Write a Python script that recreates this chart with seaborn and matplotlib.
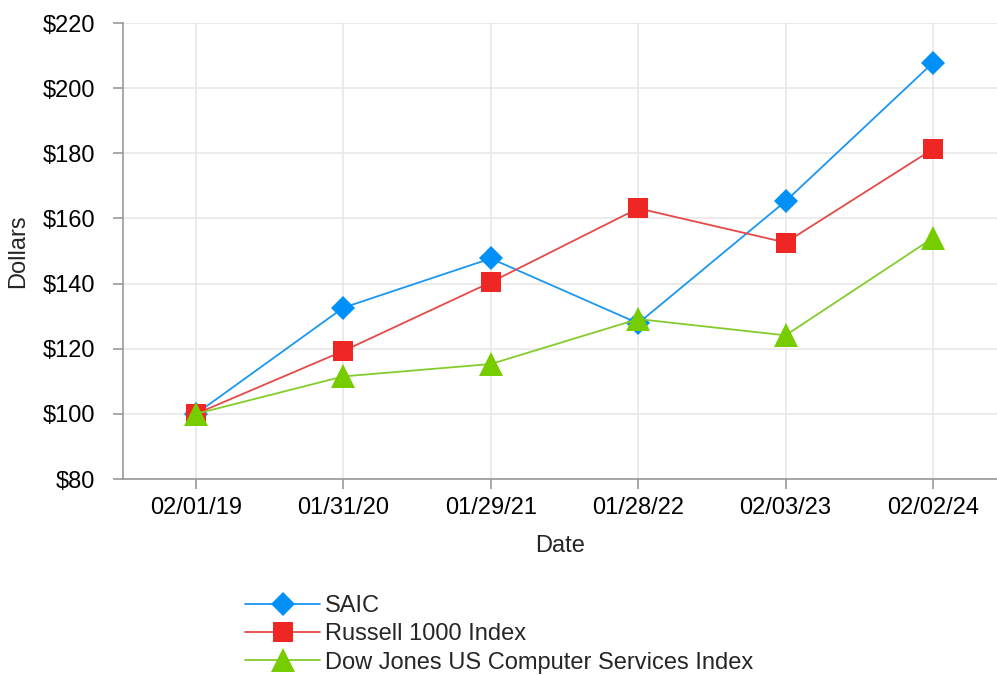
"""Rendimiento acumulado: SAIC frente a índices de referencia."""

import matplotlib.pyplot as plt
import seaborn as sns

fechas = ["02/01/19", "01/31/20", "01/29/21", "01/28/22", "02/03/23", "02/02/24"]
saic = [100, 132.6, 147.7, 127.8, 165.3, 207.8]
russell_1000 = [100, 119.3, 140.4, 163.1, 152.6, 181.3]
dow_jones_cs = [100, 111.5, 115.3, 129.1, 124.1, 154.0]

series = [
    ("SAIC", saic, "#1a97f0", "#0090f8", "D", 12),
    ("Russell 1000 Index", russell_1000, "#e44a47", "#ee2624", "s", 15),
    ("Dow Jones US Computer Services Index", dow_jones_cs, "#84cc2c", "#77cc00", "^", 17),
]

TAM_LETRA = 17


def main() -> None:
    sns.set_theme(style="whitegrid")
    plt.rcParams["font.family"] = ["Liberation Sans", "DejaVu Sans"]

    fig = plt.figure(figsize=(9.97, 6.75), dpi=100)
    ax = fig.add_axes([123 / 997, 1 - 479 / 675, 874 / 997, 456 / 675])

    for nombre, valores, color_linea, color_marca, marca, tam in series:
        sns.lineplot(
            x=fechas,
            y=valores,
            ax=ax,
            label=nombre,
            color=color_linea,
            linewidth=1.3,
            marker=marca,
            markersize=tam,
            markerfacecolor=color_marca,
            markeredgecolor=color_marca,
            markeredgewidth=0,
        )

    ax.set_xlim(-0.495, 5.434)
    ax.set_ylim(80, 220)
    ax.set_yticks(range(80, 221, 20))
    ax.set_yticklabels([f"${v}" for v in range(80, 221, 20)])

    ax.grid(True, color="#e6e6e6", linewidth=1.1)
    ax.set_facecolor("white")
    for lado in ("top", "right"):
        ax.spines[lado].set_visible(False)
    for lado in ("left", "bottom"):
        ax.spines[lado].set_visible(True)
        ax.spines[lado].set_color("#999999")
        ax.spines[lado].set_linewidth(1.2)

    ax.tick_params(axis="both", which="major", labelsize=TAM_LETRA, colors="#999999",
                   labelcolor="black", length=7, width=1.2, direction="out")
    ax.tick_params(axis="y", pad=13, left=True)
    ax.tick_params(axis="x", pad=6, bottom=True)

    ax.set_xlabel("Date", fontsize=TAM_LETRA)
    ax.set_ylabel("Dollars", fontsize=TAM_LETRA)
    ax.xaxis.set_label_coords(0.5, -0.122)
    ax.yaxis.set_label_coords(-0.1075, 0.5)

    ax.get_legend().remove()
    handles, labels = ax.get_legend_handles_labels()
    fig.legend(
        handles,
        labels,
        loc="upper left",
        bbox_to_anchor=(245 / 997, 1 - 595 / 675),
        frameon=False,
        fontsize=TAM_LETRA,
        handlelength=3.18,
        handletextpad=0.21,
        labelspacing=0.27,
        borderpad=0,
        borderaxespad=0,
    )

    fig.savefig("out.png", dpi=100)
    plt.close(fig)


if __name__ == "__main__":
    main()
